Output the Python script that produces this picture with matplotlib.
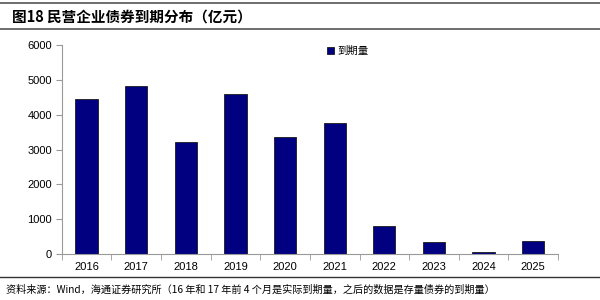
import numpy as np
import matplotlib.pyplot as plt
from matplotlib.lines import Line2D

plt.rcParams['font.family'] = ['Noto Sans CJK SC', 'DejaVu Sans']

# data
years = ['2016', '2017', '2018', '2019', '2020', '2021', '2022', '2023', '2024', '2025']
amount = [4450, 4820, 3230, 4600, 3370, 3750, 800, 360, 60, 390]

fig = plt.figure(figsize=(6, 3), dpi=100)
ax = fig.add_axes([0.103, 0.153, 0.827, 0.697])

x = np.arange(len(years))
ax.bar(x, amount, width=0.45, color='#000080', edgecolor='#1a1a1a', linewidth=0.6, label='到期量')

ax.set_xlim(-0.5, len(years) - 0.5)
ax.set_ylim(0, 6000)
ax.set_yticks(range(0, 6001, 1000))
ax.set_xticks(x)
ax.set_xticklabels(years, fontsize=8, family=['Liberation Sans', 'DejaVu Sans'])
ax.tick_params(axis='x', length=0, pad=6)
ax.tick_params(axis='y', labelsize=8, length=4, color='#999999', pad=3)
for lbl in ax.get_yticklabels():
    lbl.set_family(['Liberation Sans', 'DejaVu Sans'])
# tick marks between categories
ax.set_xticks(np.arange(-0.5, len(years)), minor=True)
ax.tick_params(axis='x', which='minor', length=4, color='#999999')

for s in ['top', 'right']:
    ax.spines[s].set_visible(False)
ax.spines['left'].set_color('#999999')
ax.spines['bottom'].set_color('#999999')

ax.legend(loc='upper left', bbox_to_anchor=(0.515, 1.04), frameon=False, fontsize=7.5,
          handlelength=0.7, handleheight=0.7, handletextpad=0.3)

# title and rules
fig.add_artist(Line2D([0.0, 1.0], [0.99, 0.99], color='#555555', lw=1.2))
fig.text(0.02, 0.945, '图18 民营企业债券到期分布（亿元）', fontsize=10.5, fontweight='bold', va='center')
fig.add_artist(Line2D([0.0, 1.0], [0.905, 0.905], color='#555555', lw=1.2))
fig.add_artist(Line2D([0.0, 1.0], [0.077, 0.077], color='#333333', lw=1.0))
fig.text(0.01, 0.035, '资料来源：Wind，海通证券研究所（16 年和 17 年前 4 个月是实际到期量，之后的数据是存量债券的到期量）',
         fontsize=7.3, va='center')

fig.savefig('out.png', dpi=100)
